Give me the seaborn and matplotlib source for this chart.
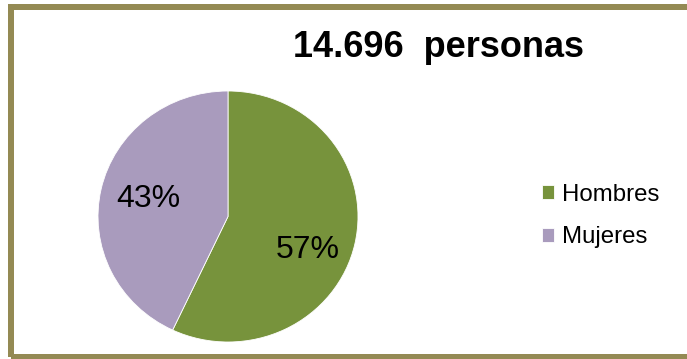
import matplotlib
matplotlib.use("Agg")
import matplotlib.pyplot as plt
from matplotlib.patches import Rectangle
from matplotlib.transforms import ScaledTranslation
import seaborn as sns

categories = ["Hombres", "Mujeres"]
values = [57, 43]
colors = ["#77933C", "#A99BBD"]
title = "14.696  personas"

sns.set_theme(style="white")
plt.rcParams["font.family"] = ["Liberation Sans", "DejaVu Sans"]
plt.rcParams["text.color"] = "black"

W, H = 687, 359
fig = plt.figure(figsize=(W / 100, H / 100), dpi=100)
fig.patch.set_facecolor("white")

# pie axes placed so the (slightly elliptical) pie fills its box
ax = fig.add_axes([98 / W, (H - 342) / H, 260 / W, 251 / H])
wedges, texts, autotexts = ax.pie(
    values,
    colors=colors,
    startangle=90,
    counterclock=False,
    autopct="%1.0f%%",
    pctdistance=0.63,
    wedgeprops=dict(edgecolor="white", linewidth=0.6),
    textprops=dict(fontsize=23, color="black"),
)
ax.set_aspect("auto")
ax.set_xlim(-1, 1)
ax.set_ylim(-1, 1)
ax.axis("off")
# the larger slice's label sits a little lower, as in the original
autotexts[0].set_transform(autotexts[0].get_transform()
                           + ScaledTranslation(0, -0.16, fig.dpi_scale_trans))

fig.text(438 / W, (H - 57) / H, title, ha="center", va="baseline",
         fontsize=26, fontweight="bold", color="black")

fig.legend(wedges, categories, loc="center left",
           bbox_to_anchor=(542 / W, (H - 216) / H),
           frameon=False, fontsize=17.3, handlelength=0.5, handleheight=0.5,
           handletextpad=0.35, labelspacing=0.85, borderpad=0, borderaxespad=0,
           labelcolor="black")

# olive frame around the chart (right side runs off the image)
frame = Rectangle((11 / W, (H - 356.5) / H), 1.2, (356.5 - 7) / H,
                  transform=fig.transFigure, fill=False,
                  edgecolor="#948A54", linewidth=6 * 0.72, clip_on=False)
fig.patches.append(frame)

fig.savefig("out.png", dpi=100, facecolor="white")
